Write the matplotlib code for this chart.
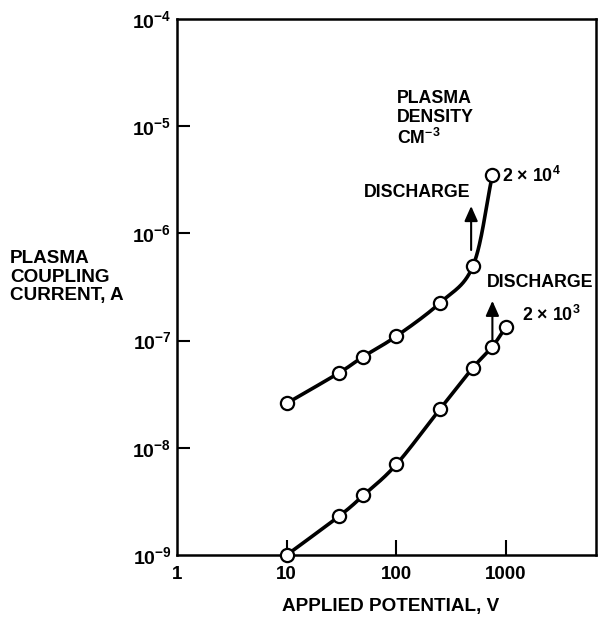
import numpy as np
import matplotlib
matplotlib.use("Agg")
import matplotlib.pyplot as plt
from matplotlib.patches import FancyArrowPatch

plt.rcParams['font.family'] = ['Liberation Sans', 'DejaVu Sans']
plt.rcParams['font.weight'] = 'bold'
plt.rcParams['mathtext.fontset'] = 'custom'
plt.rcParams['mathtext.rm'] = 'Liberation Sans:bold'
plt.rcParams['mathtext.it'] = 'Liberation Sans:bold'
plt.rcParams['mathtext.bf'] = 'Liberation Sans:bold'
plt.rcParams['mathtext.default'] = 'rm'

# ---- data ----
pot_high = [10, 30, 50, 100, 250, 500, 750]
cur_high = [2.6e-8, 5.0e-8, 7.1e-8, 1.1e-7, 2.25e-7, 5.0e-7, 3.5e-6]

pot_low = [10, 30, 50, 100, 250, 500, 750, 1000]
cur_low = [1.0e-9, 2.3e-9, 3.6e-9, 7.0e-9, 2.3e-8, 5.6e-8, 8.8e-8, 1.35e-7]

x_ticks = [1, 10, 100, 1000]
x_tick_labels = ['1', '10', '100', '1000']
y_ticks = [1e-9, 1e-8, 1e-7, 1e-6, 1e-5, 1e-4]
y_tick_labels = ['$10^{-9}$', '$10^{-8}$', '$10^{-7}$', '$10^{-6}$', '$10^{-5}$', '$10^{-4}$']


def smooth_curve(xs, ys, n=30):
    """Catmull-Rom curve through the data points, in log-log space."""
    P = np.column_stack([np.log10(xs), np.log10(ys)])
    P = np.vstack([2 * P[0] - P[1], P, 2 * P[-1] - P[-2]])
    t = np.linspace(0, 1, n)[:, None]
    segs = []
    for i in range(1, len(P) - 2):
        p0, p1, p2, p3 = P[i - 1], P[i], P[i + 1], P[i + 2]
        seg = 0.5 * (2 * p1 + (-p0 + p2) * t + (2 * p0 - 5 * p1 + 4 * p2 - p3) * t ** 2
                     + (-p0 + 3 * p1 - 3 * p2 + p3) * t ** 3)
        segs.append(seg if i == 1 else seg[1:])
    S = np.vstack(segs)
    return 10 ** S[:, 0], 10 ** S[:, 1]


fig = plt.figure(figsize=(6.01, 6.17), dpi=100)
ax = fig.add_axes([177 / 601, 1 - 555 / 617, (596 - 177) / 601, (555 - 19) / 617])
ax.set_xscale('log')
ax.set_yscale('log')
ax.set_xlim(1, 10 ** ((596 - 177) / 109.7))
ax.set_ylim(1e-9, 1e-4)

for xs, ys in [(pot_high, cur_high), (pot_low, cur_low)]:
    sx, sy = smooth_curve(xs, ys)
    ax.plot(sx, sy, color='black', lw=2.6, solid_capstyle='round', zorder=3)
    ax.plot(xs, ys, linestyle='none', marker='o', markersize=9.5, markerfacecolor='white',
            markeredgecolor='black', markeredgewidth=1.6, zorder=5, clip_on=False)

# ticks
ax.set_xticks(x_ticks)
ax.set_xticklabels(x_tick_labels)
ax.set_yticks(y_ticks)
ax.set_yticklabels(y_tick_labels)
ax.minorticks_off()
ax.tick_params(axis='x', direction='in', length=11, width=1.5, pad=8, labelsize=13.5)
ax.tick_params(axis='y', direction='in', length=9.5, width=1.5, pad=4, labelsize=14)
for t in ax.xaxis.get_major_ticks():
    if t.get_loc() == 1:
        t.tick1line.set_visible(False)
for t in ax.yaxis.get_major_ticks():
    if t.get_loc() in (1e-9, 1e-4):
        t.tick1line.set_visible(False)
for sp in ax.spines.values():
    sp.set_linewidth(1.8)

# discharge arrows
for x0, y0, y1 in [(480, 7.0e-7, 1.8e-6), (750, 9.9e-8, 2.35e-7)]:
    arr = FancyArrowPatch((x0, y0), (x0, y1), arrowstyle='-|>,head_length=0.45,head_width=0.2',
                          mutation_scale=20, color='black', lw=1.5, shrinkA=0, shrinkB=0, zorder=4)
    ax.add_patch(arr)

# annotations
fs = 12.8
ax.text(101, 1.17e-5, 'PLASMA\nDENSITY\nCM$^{-3}$', ha='left', va='center', fontsize=fs,
        linespacing=1.15)
ax.text(468, 2.4e-6, 'DISCHARGE', ha='right', va='center', fontsize=fs)
ax.text(920, 3.4e-6, r'2 $\times$ 10$^{4}$', ha='left', va='center', fontsize=fs)
ax.text(670, 3.45e-7, 'DISCHARGE', ha='left', va='center', fontsize=fs)
ax.text(1400, 1.75e-7, r'2 $\times$ 10$^{3}$', ha='left', va='center', fontsize=fs)

fig.text(10 / 601, 1 - 277 / 617, 'PLASMA\nCOUPLING\nCURRENT, A', ha='left', va='center',
         fontsize=13.6, linespacing=1.08)
fig.text(391 / 601, 1 - 607 / 617, 'APPLIED POTENTIAL, V', ha='center', va='center', fontsize=13.6)

fig.savefig('out.png', dpi=100)
